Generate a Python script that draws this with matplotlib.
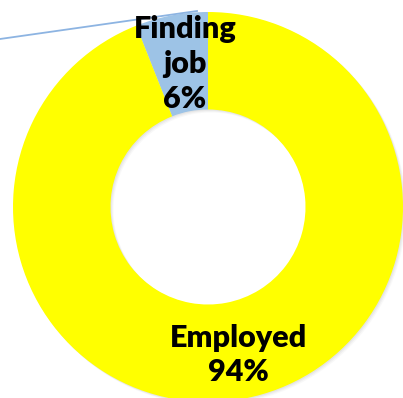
import matplotlib
matplotlib.use("Agg")
import matplotlib.pyplot as plt

labels = ["Finding\njob", "Employed"]
shares = [6, 94]
colors = ["#9DC3E6", "#FFFF00"]

# label anchor points (figure pixels, origin bottom-left)
label_xy = [(185, 334), (238, 43)]
leader_x = [0, 197]
leader_y = [359, 387]

W, H = 403, 398
fig = plt.figure(figsize=(W / 100, H / 100), dpi=100)
ax = fig.add_axes([0, 0, 1, 1])

center = (208, 191)
radius = 195

# soft shadow under the ring
for k, a in [(3, 0.05), (2, 0.07), (1, 0.09)]:
    ax.pie(shares, radius=radius, center=(center[0] + k, center[1] - k),
           colors=["#808080"] * 2, startangle=90, frame=True,
           wedgeprops=dict(width=radius / 2, alpha=a, linewidth=0))

wedges, _ = ax.pie(shares, radius=radius, center=center, colors=colors,
                   startangle=90, frame=True,
                   wedgeprops=dict(width=radius / 2, linewidth=0))
ax.set_xlim(0, W)
ax.set_ylim(0, H)
ax.axis("off")

ax.plot(leader_x, leader_y, color="#8DB4E2", linewidth=1.3, zorder=3)

for lab, pct, (x, y) in zip(labels, shares, label_xy):
    ax.text(x, y, f"{lab}\n{pct}%", ha="center", va="center",
            fontsize=22, fontweight="heavy", family="Lato",
            linespacing=1.3, color="black", zorder=4)

fig.savefig("out.png", dpi=100)
